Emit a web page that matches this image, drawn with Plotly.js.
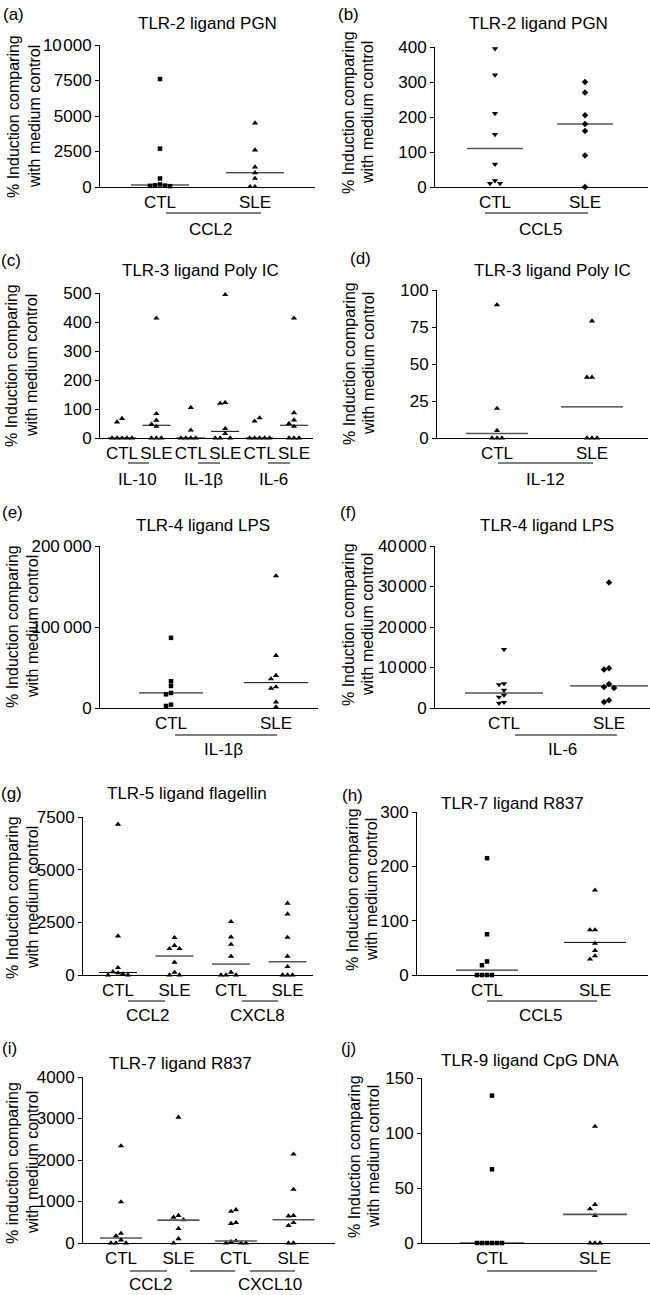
<!DOCTYPE html>
<html><head><meta charset="utf-8">
<script src="https://cdn.plot.ly/plotly-3.0.1.min.js"></script>
<style>html,body{margin:0;padding:0;background:#fff}#chart{width:650px;height:1295px}</style>
</head><body><div id="chart"></div>
<script>
// ===================== DATA =====================
const catsTwo = ['CTL', 'SLE'];
const catsSix = ['CTL', 'SLE', 'CTL', 'SLE', 'CTL', 'SLE'];
const catsFour = ['CTL', 'SLE', 'CTL', 'SLE'];
const yTitle = ['% Induction comparing', 'with medium control'];
const yTitleLower = ['% induction comparing', 'with medium control'];

// (a) TLR-2 ligand PGN, CCL2
const a_title = 'TLR-2 ligand PGN';
const a_CTL = [7600, 2700, 600, 180, 120, 100, 80, 60];
const a_SLE = [4500, 2600, 1400, 1000, 600, 20, 20];
const a_median = [140, 1000];
const a_cytokines = ['CCL2'];
const a_tickVals = [0, 2500, 5000, 7500, 10000];
const a_tickText = ['0', '2500', '5000', '7500', '10\u200A000'];

// (b) TLR-2 ligand PGN, CCL5
const b_title = 'TLR-2 ligand PGN';
const b_CTL = [395, 320, 210, 150, 65, 18, 10, 10];
const b_SLE = [300, 270, 205, 180, 160, 90, 0];
const b_median = [110, 180];
const b_cytokines = ['CCL5'];
const b_tickVals = [0, 100, 200, 300, 400];
const b_tickText = ['0', '100', '200', '300', '400'];

// (c) TLR-3 ligand Poly IC, IL-10 / IL-1β / IL-6
const c_title = 'TLR-3 ligand Poly IC';
const c_IL10_CTL = [67, 55, 0, 0, 0, 0, 0];
const c_IL10_SLE = [413, 84, 61, 47, 40, 0, 0, 0];
const c_IL1b_CTL = [105, 27, 0, 0, 0, 0];
const c_IL1b_SLE = [494, 122, 119, 32, 15, 0, 0, 0];
const c_IL6_CTL = [69, 58, 0, 0, 0, 0, 0];
const c_IL6_SLE = [413, 87, 62, 50, 40, 0, 0, 0];
const c_median = [0, 44, 0, 23, 0, 44];
const c_cytokines = ['IL-10', 'IL-1β', 'IL-6'];
const c_tickVals = [0, 100, 200, 300, 400, 500];
const c_tickText = ['0', '100', '200', '300', '400', '500'];

// (d) TLR-3 ligand Poly IC, IL-12
const d_title = 'TLR-3 ligand Poly IC';
const d_CTL = [90, 20, 5, 0, 0, 0];
const d_SLE = [79, 41, 41, 0, 0, 0];
const d_median = [3, 21];
const d_cytokines = ['IL-12'];
const d_tickVals = [0, 25, 50, 75, 100];
const d_tickText = ['0', '25', '50', '75', '100'];

// (e) TLR-4 ligand LPS, IL-1β
const e_title = 'TLR-4 ligand LPS';
const e_CTL = [86600, 33000, 27200, 18600, 16900, 4100, 2500];
const e_SLE = [163000, 64700, 40000, 35900, 26000, 24300, 7400, 1200];
const e_median = [18600, 31300];
const e_cytokines = ['IL-1β'];
const e_tickVals = [0, 100000, 200000];
const e_tickText = ['0', '100\u2009000', '200\u2009000'];

// (f) TLR-4 ligand LPS, IL-6
const f_title = 'TLR-4 ligand LPS';
const f_CTL = [14450, 6000, 5800, 4400, 3200, 2700, 1400, 1200];
const f_SLE = [31000, 9800, 9500, 5900, 5200, 4950, 1900, 1500];
const f_median = [3700, 5450];
const f_cytokines = ['IL-6'];
const f_tickVals = [0, 10000, 20000, 30000, 40000];
const f_tickText = ['0', '10\u200A000', '20\u200A000', '30\u200A000', '40\u200A000'];

// (g) TLR-5 ligand flagellin, CCL2 / CXCL8
const g_title = 'TLR-5 ligand flagellin';
const g_CCL2_CTL = [7150, 1850, 350, 150, 100, 50, 0, 0];
const g_CCL2_SLE = [1770, 1400, 1250, 1250, 600, 120, 0, 0];
const g_CXCL8_CTL = [2530, 1800, 1450, 885, 126, 0, 0, 0];
const g_CXCL8_SLE = [3400, 2890, 1785, 885, 395, 0, 0, 0];
const g_median = [120, 900, 520, 630];
const g_cytokines = ['CCL2', 'CXCL8'];
const g_tickVals = [0, 2500, 5000, 7500];
const g_tickText = ['0', '2500', '5000', '7500'];

// (h) TLR-7 ligand R837, CCL5
const h_title = 'TLR-7 ligand R837';
const h_CTL = [215, 75, 25, 18, 0, 0, 0, 0];
const h_SLE = [156, 83, 83, 58, 45, 35, 29];
const h_median = [9, 60];
const h_cytokines = ['CCL5'];
const h_tickVals = [0, 100, 200, 300];
const h_tickText = ['0', '100', '200', '300'];

// (i) TLR-7 ligand R837, CCL2 / CXCL10
const i_title = 'TLR-7 ligand R837';
const i_CCL2_CTL = [2340, 990, 230, 170, 70, 0, 0, 0];
const i_CCL2_SLE = [3030, 660, 620, 560, 345, 100, 0];
const i_CXCL10_CTL = [800, 760, 490, 470, 50, 30, 0, 0, 0];
const i_CXCL10_SLE = [2140, 1290, 660, 650, 490, 420, 0, 0];
const i_median = [120, 552, 48, 560];
const i_cytokines = ['CCL2', 'CXCL10'];
const i_tickVals = [0, 1000, 2000, 3000, 4000];
const i_tickText = ['0', '1000', '2000', '3000', '4000'];

// (j) TLR-9 ligand CpG DNA
const j_title = 'TLR-9 ligand CpG DNA';
const j_CTL = [134, 67, 0, 0, 0, 0, 0, 0];
const j_SLE = [106, 35, 31, 25, 0, 0, 0];
const j_median = [0, 26];
const j_cytokines = [];
const j_tickVals = [0, 50, 100, 150];
const j_tickText = ['0', '50', '100', '150'];

// ===================== LAYOUT / STYLE =====================
const W = 650, H = 1295;
const FONT = 'Liberation Sans, Arial, Helvetica, sans-serif';
const SQ = {symbol: 'square', size: 4.5};
const TU = {symbol: 'triangle-up', size: 5.5};
const TD = {symbol: 'triangle-down', size: 5.5};
const DM = {symbol: 'diamond', size: 5};

const panels = [
  {tag: '(a)', tagX: 13, tagY: 15, title: a_title, tX: 207, tY: 23, yt: yTitle, ytX: [13, 34], ytY: 117,
   left: 100, right: 315, top: 45, bottom: 187, c1: 160, s: 95, ymax: 10000, tv: a_tickVals, tt: a_tickText,
   cats: catsTwo, groups: [[a_CTL, SQ], [a_SLE, TU]], med: a_median, medHalf: 29,
   lines: [[166, 261, 213]], labels: a_cytokines, labelPos: [[210, 230]]},
  {tag: '(b)', tagX: 348, tagY: 15, title: b_title, tX: 538, tY: 23, yt: yTitle, ytX: [349, 368], ytY: 113,
   left: 435, right: 648, top: 47, bottom: 187, c1: 495, s: 90, ymax: 400, tv: b_tickVals, tt: b_tickText,
   cats: catsTwo, groups: [[b_CTL, TD], [b_SLE, DM]], med: b_median, medHalf: 28, grey: [0],
   lines: [[485, 588, 213]], labels: b_cytokines, labelPos: [[540, 230]]},
  {tag: '(c)', tagX: 11, tagY: 260, title: c_title, tX: 200, tY: 270, yt: yTitle, ytX: [12, 32], ytY: 366,
   left: 100, right: 313, top: 293, bottom: 438, c1: 122, s: 34.4, ymax: 500, tv: c_tickVals, tt: c_tickText,
   cats: catsSix, groups: [[c_IL10_CTL, TU], [c_IL10_SLE, TU], [c_IL1b_CTL, TU], [c_IL1b_SLE, TU], [c_IL6_CTL, TU], [c_IL6_SLE, TU]],
   med: c_median, medHalf: 14,
   lines: [[128, 149, 463], [198, 220, 463], [268, 290, 463]], labels: c_cytokines, labelPos: [[137, 480], [203, 480], [273, 480]]},
  {tag: '(d)', tagX: 360, tagY: 258, title: d_title, tX: 552, tY: 270, yt: yTitle, ytX: [349, 368], ytY: 364,
   left: 437, right: 648, top: 290, bottom: 438, c1: 497, s: 95, ymax: 100, tv: d_tickVals, tt: d_tickText,
   cats: catsTwo, groups: [[d_CTL, TU], [d_SLE, TU]], med: d_median, medHalf: 31, grey: [0],
   lines: [[498, 593, 463]], labels: d_cytokines, labelPos: [[545, 480]]},
  {tag: '(e)', tagX: 12, tagY: 513, title: e_title, tX: 203, tY: 525, yt: yTitle, ytX: [12, 32], ytY: 627,
   left: 100, right: 318, top: 546, bottom: 708, c1: 171, s: 105, ymax: 200000, tv: e_tickVals, tt: e_tickText,
   cats: catsTwo, groups: [[e_CTL, SQ], [e_SLE, TU]], med: e_median, medHalf: 32,
   lines: [[175, 277, 735]], labels: e_cytokines, labelPos: [[223, 750]]},
  {tag: '(f)', tagX: 348, tagY: 512, title: f_title, tX: 547, tY: 525, yt: yTitle, ytX: [349, 368], ytY: 625,
   left: 435, right: 650, top: 546, bottom: 708, c1: 504, s: 105, ymax: 40000, tv: f_tickVals, tt: f_tickText,
   cats: catsTwo, groups: [[f_CTL, TD], [f_SLE, DM]], med: f_median, medHalf: 39,
   lines: [[515, 617, 735]], labels: f_cytokines, labelPos: [[562, 750]]},
  {tag: '(g)', tagX: 11, tagY: 793, title: g_title, tX: 187, tY: 793, yt: yTitle, ytX: [12, 32], ytY: 898,
   left: 83, right: 313, top: 817, bottom: 975, c1: 118, s: 56.5, ymax: 7500, tv: g_tickVals, tt: g_tickText,
   cats: catsFour, groups: [[g_CCL2_CTL, TU], [g_CCL2_SLE, TU], [g_CXCL8_CTL, TU], [g_CXCL8_SLE, TU]],
   med: g_median, medHalf: 19, grey: [3],
   lines: [[128, 165, 1001], [242, 278, 1001]], labels: g_cytokines, labelPos: [[147, 1015], [257, 1015]]},
  {tag: '(h)', tagX: 352, tagY: 795, title: h_title, tX: 512, tY: 803, yt: yTitle, ytX: [352, 371], ytY: 890,
   left: 417, right: 648, top: 812, bottom: 975, c1: 487, s: 108, ymax: 300, tv: h_tickVals, tt: h_tickText,
   cats: catsTwo, groups: [[h_CTL, SQ], [h_SLE, TU]], med: h_median, medHalf: 31,
   lines: [[487, 597, 1001]], labels: h_cytokines, labelPos: [[540, 1015]]},
  {tag: '(i)', tagX: 9, tagY: 1048, title: i_title, tX: 180, tY: 1063, yt: yTitleLower, ytX: [12, 32], ytY: 1163,
   left: 83, right: 335, top: 1077, bottom: 1243, c1: 121, s: 57.5, ymax: 4000, tv: i_tickVals, tt: i_tickText,
   cats: catsFour, groups: [[i_CCL2_CTL, TU], [i_CCL2_SLE, TU], [i_CXCL10_CTL, TU], [i_CXCL10_SLE, TU]],
   med: i_median, medHalf: 21, grey: [1, 2, 3],
   lines: [[130, 167, 1271], [190, 235, 1271], [250, 295, 1271]], lineGrey: true, labels: i_cytokines, labelPos: [[150, 1284], [270, 1284]]},
  {tag: '(j)', tagX: 348, tagY: 1048, title: j_title, tX: 530, tY: 1060, yt: yTitle, ytX: [354, 373], ytY: 1157,
   left: 422, right: 650, top: 1078, bottom: 1243, c1: 492, s: 103, ymax: 150, tv: j_tickVals, tt: j_tickText,
   cats: catsTwo, groups: [[j_CTL, SQ], [j_SLE, TU]], med: j_median, medHalf: 32, grey: [1],
   lines: [[487, 597, 1271]], lineGrey: true, labels: j_cytokines, labelPos: []}
];

// simple beeswarm: horizontal offsets (px) so close values don't overlap
function swarm(vals, ppu, s, pos) {
  const d = 5, thr = 4.5;
  const order = vals.map((v, i) => i).sort((a, b) => vals[b] - vals[a]);
  const placed = [];
  const off = new Array(vals.length).fill(0);
  order.forEach(i => {
    const py = vals[i] * ppu;
    for (let k = 0; k < 30; k++) {
      const c = k === 0 ? 0 : (k % 2 ? -Math.ceil(k / 2) : Math.ceil(k / 2)) * d;
      if (!placed.some(q => Math.abs(q.py - py) < thr && Math.abs(q.x - c) < d - 0.1)) {
        off[i] = c; placed.push({py: py, x: c}); break;
      }
    }
  });
  return off.map(o => pos + o / s);
}

const data = [];
const layout = {
  width: W, height: H, margin: {l: 0, r: 0, t: 0, b: 0}, showlegend: false,
  paper_bgcolor: '#fff', plot_bgcolor: '#fff',
  font: {family: FONT, color: '#000', size: 17},
  annotations: [], shapes: []
};

panels.forEach((p, idx) => {
  const n = idx + 1;
  const xs = n === 1 ? 'x' : 'x' + n, ys = n === 1 ? 'y' : 'y' + n;
  const xk = n === 1 ? 'xaxis' : 'xaxis' + n, yk = n === 1 ? 'yaxis' : 'yaxis' + n;
  const r0 = 1 + (p.left - p.c1) / p.s, r1 = 1 + (p.right - p.c1) / p.s;
  layout[xk] = {
    domain: [p.left / W, p.right / W], range: [r0, r1], anchor: ys,
    showline: true, linecolor: '#000', linewidth: 1, ticks: '', tickangle: 0,
    tickmode: 'array', tickvals: p.cats.map((_, k) => k + 1), ticktext: p.cats,
    tickfont: {size: 17, family: FONT, color: '#000'}, ticklabelstandoff: 0,
    showgrid: false, zeroline: false, fixedrange: true
  };
  layout[yk] = {
    domain: [1 - p.bottom / H, 1 - p.top / H], range: [0, p.ymax], anchor: xs,
    showline: true, linecolor: '#000', linewidth: 1, ticks: 'outside', ticklen: 4, tickwidth: 1, tickcolor: '#000',
    tickmode: 'array', tickvals: p.tv, ticktext: p.tt, tickfont: {size: 17, family: FONT, color: '#000'},
    showgrid: false, zeroline: false, fixedrange: true
  };
  const ppu = (p.bottom - p.top) / p.ymax;
  p.groups.forEach((g, k) => {
    const vals = g[0], m = g[1];
    data.push({
      type: 'scatter', mode: 'markers', x: swarm(vals, ppu, p.s, k + 1), y: vals,
      xaxis: xs, yaxis: ys, cliponaxis: false, hoverinfo: 'skip',
      marker: {symbol: m.symbol, size: m.size, color: '#000', line: {width: 0}}
    });
  });
  const h = p.medHalf / p.s;
  p.med.forEach((mv, k) => {
    const grey = p.grey && p.grey.indexOf(k) >= 0;
    data.push({
      type: 'scatter', mode: 'lines', x: [k + 1 - h, k + 1 + h], y: [mv, mv],
      xaxis: xs, yaxis: ys, hoverinfo: 'skip',
      line: {color: grey ? '#555' : '#000', width: grey ? 1.6 : 1}
    });
  });
  // panel tag, title, y title (two lines)
  layout.annotations.push({text: p.tag, x: p.tagX / W, y: 1 - p.tagY / H, xref: 'paper', yref: 'paper',
    xanchor: 'center', yanchor: 'middle', showarrow: false, font: {size: 17}});
  layout.annotations.push({text: p.title, x: p.tX / W, y: 1 - p.tY / H, xref: 'paper', yref: 'paper',
    xanchor: 'center', yanchor: 'middle', showarrow: false, font: {size: 17}});
  p.yt.forEach((line, k) => {
    layout.annotations.push({text: line, x: p.ytX[k] / W, y: 1 - p.ytY / H, xref: 'paper', yref: 'paper',
      xanchor: 'center', yanchor: 'middle', textangle: -90, showarrow: false, font: {size: 16}});
  });
  p.lines.forEach(l => {
    layout.shapes.push({type: 'line', xref: 'paper', yref: 'paper', x0: l[0] / W, x1: l[1] / W,
      y0: 1 - l[2] / H, y1: 1 - l[2] / H, line: {color: p.lineGrey ? '#555' : '#000', width: p.lineGrey ? 1.6 : 1}});
  });
  p.labels.forEach((t, k) => {
    const pos = p.labelPos[k];
    layout.annotations.push({text: t, x: pos[0] / W, y: 1 - pos[1] / H, xref: 'paper', yref: 'paper',
      xanchor: 'center', yanchor: 'middle', showarrow: false, font: {size: 17}});
  });
});

Plotly.newPlot('chart', data, layout, {staticPlot: true, displayModeBar: false});
</script>
</body></html>
